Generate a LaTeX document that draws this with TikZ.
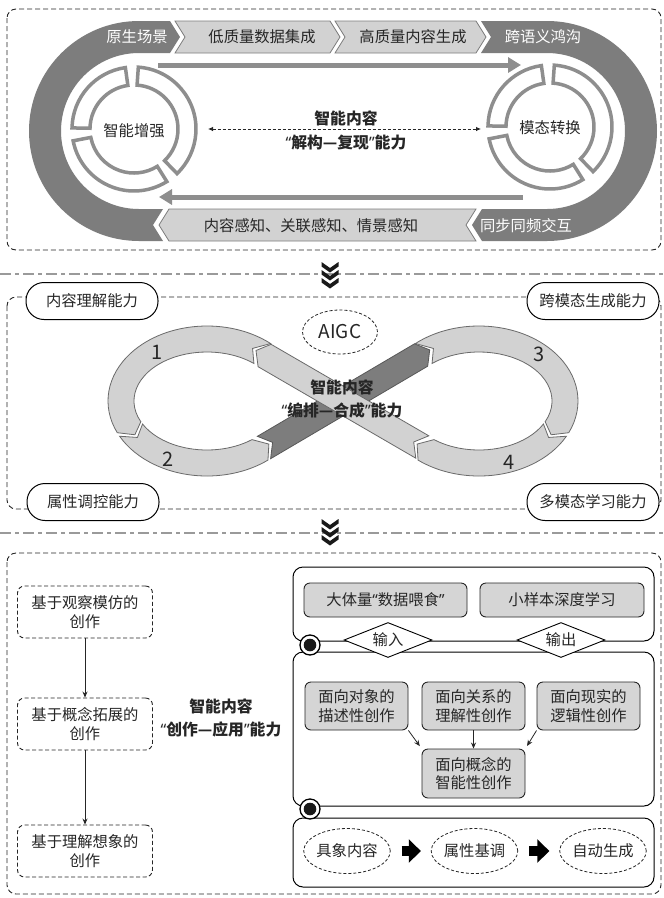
\documentclass[tikz,border=0pt]{standalone}
\usepackage{fontspec}
\setmainfont{Noto Sans CJK SC}
\newfontfamily\quotefont{Noto Sans}
\newcommand\oq{{\quotefont “}}
\newcommand\cq{{\quotefont ”}}
\usetikzlibrary{arrows.meta,calc,shapes.geometric}
\definecolor{darkg}{HTML}{7D7D7D}
\definecolor{lightg}{HTML}{D2D2D2}
\definecolor{ringg}{HTML}{8E8E8E}
\definecolor{boxg}{HTML}{D5D5D5}
\definecolor{txt}{HTML}{262626}
\definecolor{sepg}{HTML}{9A9A9A}
\begin{document}
\begin{tikzpicture}[x=1pt,y=-1pt,
  every node/.style={text=txt, font=\fontsize{15.3}{18}\selectfont, inner sep=0pt},
  secborder/.style={draw=black!85, line width=0.9pt, dash pattern=on 5pt off 3pt, rounded corners=9pt},
  sepline/.style={draw=sepg, line width=2.4pt, dash pattern=on 11pt off 4pt on 4pt off 4pt},
  chevf/.style={fill=black!90},
  darkband/.style={fill=darkg},
  lightband/.style={fill=lightg, draw=darkg, line width=0.8pt},
  ringseg/.style={draw=ringg, line width=3.5pt, fill=white},
  bigarrow/.style={draw=ringg, line width=5pt, -{Triangle[length=13pt,width=15pt]}},
  wlabel/.style={text=white},
  boldA/.style={font=\fontsize{15.8}{24}\selectfont\bfseries, align=center},
  boldB/.style={font=\fontsize{15.8}{22.5}\selectfont\bfseries, align=center},
  dasharrow/.style={draw=black!85, line width=0.8pt, dash pattern=on 3pt off 2pt, {Latex[length=5pt,width=4.5pt]}-{Latex[length=5pt,width=4.5pt]}},
  loopseg/.style={fill=lightg, draw=darkg!85!black, line width=0.8pt},
  darkseg/.style={fill=darkg, draw=darkg!70!black, line width=0.8pt},
  pill/.style={draw=black, line width=1pt, fill=white, rounded corners=18pt, minimum width=132pt, minimum height=37pt},
  numlabel/.style={font=\fontsize{20}{20}\selectfont},
  dashbox/.style={draw=black!85, line width=0.9pt, dash pattern=on 4pt off 2.5pt, rounded corners=7pt, minimum width=135pt, minimum height=52pt, align=center, font=\fontsize{15.3}{19}\selectfont},
  panel/.style={draw=black, line width=1pt, rounded corners=10pt},
  graybox/.style={draw=black!85, fill=boxg, line width=0.9pt, rounded corners=6pt, align=center, font=\fontsize{15.3}{18.5}\selectfont},
  diam/.style={diamond, draw=black, line width=0.9pt, fill=white, minimum width=88pt, minimum height=35pt, aspect=2.5},
  junc/.style={circle, draw=black, line width=1.3pt, fill=white, minimum size=20pt, path picture={\fill[black!90] (path picture bounding box.center) circle[radius=6.3pt];}},
  dell/.style={ellipse, draw=black!85, line width=0.8pt, dash pattern=on 3pt off 2pt, minimum width=83pt, minimum height=45pt},
  thinarr/.style={draw=black!85, line width=0.8pt, -{Stealth[length=6pt,width=5pt]}},
  blockarr/.style={draw=black, line width=10pt, -{Triangle[length=12pt,width=23pt]}, shorten <=11pt, shorten >=10pt}
]
\useasboundingbox (0,0) rectangle (664,898);
\fill[white] (0,0) rectangle (664,898);

% ================= TOP SECTION =================
\draw[secborder] (7,9) rectangle (661,250);

% left dark C
\fill[darkband] (139,21) -- (170,21) -- (180,37) -- (170,53) -- (139,53)
  arc[start angle=270, end angle=90, radius=78] -- (163,209) -- (153,225) -- (163,241) -- (139,241)
  arc[start angle=90, end angle=270, radius=110] -- cycle;
% right dark C
\fill[darkband] (481,21) -- (547,21) arc[start angle=-90, end angle=90, radius=110]
  -- (482,241) -- (472,225) -- (482,209) -- (547,209)
  arc[start angle=90, end angle=-90, radius=78] -- (481,53) -- (491,37) -- cycle;
% light chevrons
\draw[lightband] (175,21) -- (330,21) -- (340,37) -- (330,53) -- (175,53) -- (185,37) -- cycle;
\draw[lightband] (335,21) -- (476,21) -- (486,37) -- (476,53) -- (335,53) -- (345,37) -- cycle;
\draw[lightband] (169,209) -- (476,209) -- (466,225) -- (476,241) -- (169,241) -- (159,225) -- cycle;

\node[wlabel] (t1) at (137,37) {原生场景};
\node (t2) at (262,37) {低质量数据集成};
\node (t3) at (413,37) {高质量内容生成};
\node[wlabel] (t4) at (543,37) {跨语义鸿沟};
\node (t5) at (311,226) {内容感知、关联感知、情景感知};
\node[wlabel] (t6) at (526,226) {同步同频交互};

% rings
\foreach \a/\b in {181/262, 274/406, 58/169} {
  \draw[ringseg] ($(134,129)+(\a:62)$) arc[start angle=\a, end angle=\b, radius=62]
     -- ($(134,129)+(\b:44)$) arc[start angle=\b, end angle=\a, radius=44] -- cycle;
  \draw[ringseg] ($(550,127)+(\a:62)$) arc[start angle=\a, end angle=\b, radius=62]
     -- ($(550,127)+(\b:44)$) arc[start angle=\b, end angle=\a, radius=44] -- cycle;
}
\node (r1) at (134,131) {智能增强};
\node (r2) at (550,128) {模态转换};

% big arrows
\coordinate (ta1) at (158,65); \coordinate (ta2) at (521,65);
\draw[bigarrow] (ta1) -- (ta2);
\coordinate (ba1) at (523,197); \coordinate (ba2) at (159,197);
\draw[bigarrow] (ba1) -- (ba2);

% dashed double arrow + label
\coordinate (da1) at (208,129); \coordinate (da2) at (481,129);
\draw[dasharrow] (da1) -- (da2);
\node[boldA] (mid1) at (346,130) {智能内容\\\oq 解构—复现\cq 能力};

% ================= SEPARATOR 1 =================
\coordinate (s1l) at (0,274); \coordinate (s1r) at (664,274);
\draw[sepline] (s1l) -- (s1r);
\begin{scope}[shift={(330,262)}]
\foreach \k in {0,8,16} {
  \fill[chevf] (-8.5,\k) -- (0,\k+6) -- (8.5,\k) -- (8.5,\k+4.5) -- (0,\k+10.5) -- (-8.5,\k+4.5) -- cycle;
}
\end{scope}

% ================= MIDDLE SECTION =================
\draw[secborder] (7,297) rectangle (661,509);

\coordinate (L) at (207,401);
\coordinate (R) at (479,401);
% dark diagonal
\draw[darkseg] (270.6,458.7) -- (272.6,442.4) -- (257.4,436.3) -- (414.5,343.8) -- (429.7,349.9) -- (427.7,366.2) -- cycle;
% loop segment 1
\draw[loopseg] ($(L)+(-50:99 and 75)$) arc[start angle=-50, end angle=-205, x radius=99, y radius=75]
  -- ($(L)+(-213:86 and 62)$) -- ($(L)+(-205:73 and 49)$)
  arc[start angle=-205, end angle=-50, x radius=73, y radius=49] -- ($(L)+(-58:86 and 62)$) -- cycle;
% loop segment 2
\draw[loopseg] ($(L)+(152:99 and 75)$) arc[start angle=152, end angle=52, x radius=99, y radius=75]
  -- ($(L)+(44:86 and 62)$) -- ($(L)+(52:73 and 49)$)
  arc[start angle=52, end angle=152, x radius=73, y radius=49] -- ($(L)+(144:86 and 62)$) -- cycle;
% loop segment 3
\draw[loopseg] ($(R)+(230:99 and 75)$) arc[start angle=230, end angle=385, x radius=99, y radius=75]
  -- ($(R)+(393:86 and 62)$) -- ($(R)+(385:73 and 49)$)
  arc[start angle=385, end angle=230, x radius=73, y radius=49] -- ($(R)+(238:86 and 62)$) -- cycle;
% loop segment 4
\draw[loopseg] ($(R)+(28:99 and 75)$) arc[start angle=28, end angle=128, x radius=99, y radius=75]
  -- ($(R)+(136:86 and 62)$) -- ($(R)+(128:73 and 49)$)
  arc[start angle=128, end angle=28, x radius=73, y radius=49] -- ($(R)+(36:86 and 62)$) -- cycle;
% light diagonal (on top)
\draw[loopseg] (415.8,458.2) -- (413.7,442.0) -- (428.8,435.8) -- (271.1,344.3) -- (256.0,350.5) -- (258.1,366.7) -- cycle;

\node[numlabel] (n1) at (157,352) {1};
\node[numlabel] (n2) at (168,459) {2};
\node[numlabel] (n3) at (539,354) {3};
\node[numlabel] (n4) at (509,462) {4};

\node[dell, minimum width=75pt, minimum height=44pt, font=\fontsize{19}{19}\selectfont] (aigc) at (340,332) {AIGC};
\node[boldB] (mid2) at (342,399) {智能内容\\\oq 编排—合成\cq 能力};

\node[pill] (p1) at (92,301) {内容理解能力};
\node[pill] (p2) at (593,301) {跨模态生成能力};
\node[pill] (p3) at (93,502) {属性调控能力};
\node[pill] (p4) at (593,502) {多模态学习能力};

% ================= SEPARATOR 2 =================
\coordinate (s2l) at (0,533); \coordinate (s2r) at (664,533);
\draw[sepline] (s2l) -- (s2r);
\begin{scope}[shift={(330,519)}]
\foreach \k in {0,8,16} {
  \fill[chevf] (-8.5,\k) -- (0,\k+6) -- (8.5,\k) -- (8.5,\k+4.5) -- (0,\k+10.5) -- (-8.5,\k+4.5) -- cycle;
}
\end{scope}

% ================= BOTTOM SECTION =================
\draw[secborder] (7,553) rectangle (661,894);

\node[dashbox] (b1) at (85,612) {基于观察模仿的\\创作};
\node[dashbox] (b2) at (85,724) {基于概念拓展的\\创作};
\node[dashbox] (b3) at (85,851) {基于理解想象的\\创作};
\draw[thinarr] (b1) -- (b2);
\draw[thinarr] (b2) -- (b3);
\node[boldB, font=\fontsize{15.8}{23}\selectfont\bfseries] (mid3) at (221,717.5) {智能内容\\\oq 创作—应用\cq 能力};

\draw[panel] (293,567) rectangle (654,641);
\draw[panel] (293,652) rectangle (654,806);
\draw[panel] (293,818) rectangle (654,887);

\node[graybox, minimum width=163pt, minimum height=34pt] (ga) at (385.5,600) {大体量\oq 数据喂食\cq};
\node[graybox, minimum width=164pt, minimum height=34pt] (gb) at (562,600) {小样本深度学习};

\node[diam] (d1) at (388,640) {输入};
\node[diam] (d2) at (561,640) {输出};
\node[junc] (j1) at (310,645) {};
\node[junc] (j2) at (310,809) {};

\node[graybox, minimum width=103pt, minimum height=48pt] (g1) at (356.5,706) {面向对象的\\描述性创作};
\node[graybox, minimum width=103pt, minimum height=48pt] (g2) at (473.5,706) {面向关系的\\理解性创作};
\node[graybox, minimum width=103pt, minimum height=48pt] (g3) at (588.5,706) {面向现实的\\逻辑性创作};
\node[graybox, minimum width=103pt, minimum height=49pt] (g4) at (473.5,773.5) {面向概念的\\智能性创作};
\draw[thinarr, shorten >=3pt] (g1.south east) -- (g4.north west);
\draw[thinarr] (g2) -- (g4);
\draw[thinarr, shorten >=3pt] (g3.south west) -- (g4.north east);

\node[dell] (e1) at (347,851) {具象内容};
\node[dell] (e2) at (474.5,851) {属性基调};
\node[dell] (e3) at (603,851) {自动生成};
\draw[blockarr] (e1) -- (e2);
\draw[blockarr] (e2) -- (e3);
\end{tikzpicture}
\end{document}
